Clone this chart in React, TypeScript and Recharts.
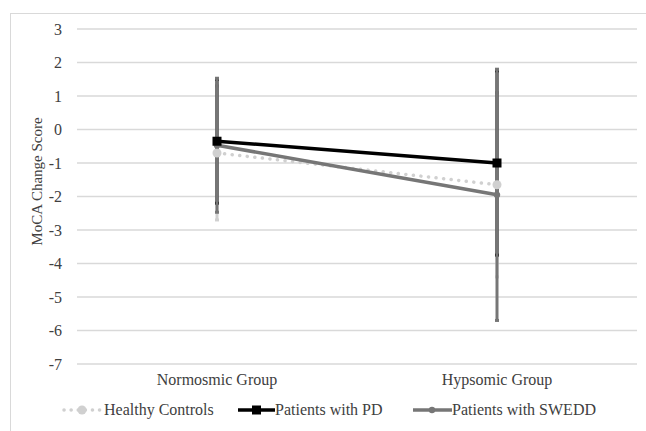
import React from 'react';
import { LineChart, Line, XAxis, YAxis, CartesianGrid, ErrorBar, Legend, Label } from 'recharts';

const categories = ['Normosmic Group', 'Hypsomic Group'];
const healthyControls = [-0.7, -1.65];
const healthyControlsErr = [2.0, 2.75];
const patientsPD = [-0.35, -1.0];
const patientsPDErr = [1.85, 2.75];
const patientsSWEDD = [-0.47, -1.95];
const patientsSWEDDErr = [2.0, 3.75];
const yTicks = [-7, -6, -5, -4, -3, -2, -1, 0, 1, 2, 3];
const seriesNames = ['Healthy Controls', 'Patients with PD', 'Patients with SWEDD'];

const data = categories.map((c, i) => ({
  name: c,
  hc: healthyControls[i],
  hcErr: healthyControlsErr[i],
  pd: patientsPD[i],
  pdErr: patientsPDErr[i],
  swedd: patientsSWEDD[i],
  sweddErr: patientsSWEDDErr[i],
}));

const FONT = 'Liberation Serif, serif';
const TEXT = '#404040';
const HC_C = '#d0d0d0';
const PD_C = '#000000';
const SW_C = '#767676';

const SquareDot = (props: any) => {
  const { cx, cy } = props;
  if (cx == null || cy == null) return null;
  return <rect x={cx - 4.5} y={cy - 4.5} width={9} height={9} fill={PD_C} />;
};

const legendLayout = [
  { kind: 'hc', markerLeft: 62, textLeft: 104 },
  { kind: 'pd', markerLeft: 237, textLeft: 275 },
  { kind: 'sw', markerLeft: 412, textLeft: 452 },
];

const LegendContent = () => (
  <div style={{ position: 'relative', width: 646, height: 24, fontFamily: FONT, fontSize: 16, color: TEXT, whiteSpace: 'nowrap' }}>
    {legendLayout.map((it, i) => (
      <React.Fragment key={it.kind}>
        <svg width={40} height={12} style={{ position: 'absolute', left: it.markerLeft, top: 6 }}>
          {it.kind === 'hc' && (
            <g>
              <line x1={2} y1={6} x2={38} y2={6} stroke={HC_C} strokeWidth={3.5} strokeDasharray="0.1 7" strokeLinecap="round" />
              <circle cx={20} cy={6} r={4.5} fill={HC_C} />
            </g>
          )}
          {it.kind === 'pd' && (
            <g>
              <line x1={1} y1={6} x2={38} y2={6} stroke={PD_C} strokeWidth={3.5} />
              <rect x={15} y={1.5} width={9} height={9} fill={PD_C} />
            </g>
          )}
          {it.kind === 'sw' && (
            <g>
              <line x1={1} y1={6} x2={40} y2={6} stroke={SW_C} strokeWidth={3.5} />
              <circle cx={20} cy={6} r={3.2} fill={SW_C} />
            </g>
          )}
        </svg>
        <span style={{ position: 'absolute', left: it.textLeft, top: 2, lineHeight: '20px' }}>{seriesNames[i]}</span>
      </React.Fragment>
    ))}
  </div>
);

const YLabel = (props: any) => {
  const vb = props.viewBox || {};
  const cx = 37;
  const cy = (vb.y ?? 29) + (vb.height ?? 335) / 2 - 15;
  return (
    <text x={cx} y={cy} transform={`rotate(-90 ${cx} ${cy})`} textAnchor="middle" dominantBaseline="central" fontFamily={FONT} fontSize={15} fill={TEXT}>
      MoCA Change Score
    </text>
  );
};

export default function App() {
  return (
    <div style={{ position: 'absolute', left: 0, top: 0, width: 646, height: 431, background: '#fff', fontFamily: FONT }}>
      <div style={{ position: 'absolute', left: 10, top: 13, width: 650, height: 430, border: '1px solid #d9d9d9', boxSizing: 'border-box' }} />
      <div style={{ position: 'absolute', left: 0, top: 0 }}>
        <LineChart width={646} height={431} data={data} margin={{ top: 29, right: 9, bottom: 9, left: 0 }}>
          <CartesianGrid vertical={false} stroke="#d9d9d9" strokeWidth={1.3} />
          <XAxis dataKey="name" axisLine={false} tickLine={false} tickSize={0} tickMargin={10} height={34}
            padding={{ left: 140, right: 140 }}
            tick={{ fontFamily: FONT, fontSize: 16, fill: TEXT }} interval={0} />
          <YAxis domain={[-7, 3]} ticks={yTicks} axisLine={false} tickLine={false} tickSize={0} tickMargin={15} width={77}
            tick={{ fontFamily: FONT, fontSize: 16, fill: TEXT }} interval={0}>
            <Label content={<YLabel />} />
          </YAxis>
          <Legend verticalAlign="bottom" content={<LegendContent />} wrapperStyle={{ left: 0, width: 646 }} />
          <Line dataKey="hc" stroke="none" dot={false} activeDot={false} legendType="none" isAnimationActive={false}>
            <ErrorBar dataKey="hcErr" width={2} strokeWidth={3} stroke={HC_C} />
          </Line>
          <Line dataKey="pd" stroke="none" dot={false} activeDot={false} legendType="none" isAnimationActive={false}>
            <ErrorBar dataKey="pdErr" width={2} strokeWidth={3} stroke={PD_C} />
          </Line>
          <Line dataKey="swedd" stroke="none" dot={false} activeDot={false} legendType="none" isAnimationActive={false}>
            <ErrorBar dataKey="sweddErr" width={2} strokeWidth={3} stroke={SW_C} />
          </Line>
          <Line dataKey="hc" name={seriesNames[0]} stroke={HC_C} strokeWidth={3.5} strokeDasharray="0.1 7.5" strokeLinecap="round"
            dot={{ r: 4.5, fill: HC_C, stroke: 'none', strokeDasharray: '' }} activeDot={false} isAnimationActive={false} />
          <Line dataKey="swedd" name={seriesNames[2]} stroke={SW_C} strokeWidth={3.5}
            dot={{ r: 3.2, fill: SW_C, stroke: 'none' }} activeDot={false} isAnimationActive={false} />
          <Line dataKey="pd" name={seriesNames[1]} stroke={PD_C} strokeWidth={3.5}
            dot={<SquareDot />} activeDot={false} isAnimationActive={false} />
        </LineChart>
      </div>
    </div>
  );
}
